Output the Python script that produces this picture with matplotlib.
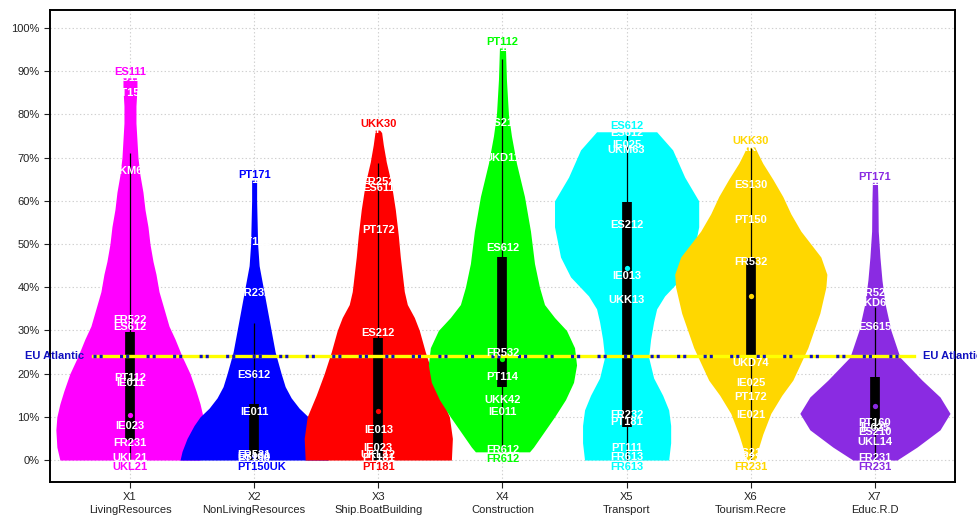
import matplotlib
matplotlib.use("Agg")
import matplotlib.pyplot as plt
import numpy as np

plt.rcParams['font.family'] = ['Liberation Sans', 'DejaVu Sans']
plt.rcParams['lines.scale_dashes'] = False

codes = ["X1", "X2", "X3", "X4", "X5", "X6", "X7"]
sectors = ["LivingResources", "NonLivingResources", "Ship.BoatBuilding",
           "Construction", "Transport", "Tourism.Recre", "Educ.R.D"]
colors = ["#FF00FF", "#0000FF", "#FF0000", "#00FF00", "#00FFFF", "#FFD700", "#8A2BE2"]

# violin outlines: share level -> half width (pixels of the original chart)
lev1 = [0.0, 0.03, 0.07, 0.10, 0.13, 0.16, 0.20, 0.24, 0.28, 0.31, 0.35, 0.39, 0.43,
        0.46, 0.50, 0.54, 0.58, 0.62, 0.66, 0.70, 0.74, 0.78, 0.82, 0.86, 0.885]
wid1 = [70, 73, 74, 73, 70, 66, 60, 52, 45, 39, 34, 29, 26, 23, 20, 18, 15, 13, 10, 8, 7, 6, 6, 7, 7]
lev2 = [0.0, 0.02, 0.05, 0.08, 0.10, 0.12, 0.144, 0.17, 0.20, 0.25, 0.30, 0.35, 0.40,
        0.45, 0.50, 0.55, 0.60, 0.648]
wid2 = [74, 72, 67, 60, 54, 45, 37, 31, 27, 21, 17, 13, 9, 5, 3.5, 3, 2.5, 2.5]
lev3 = [0.0, 0.05, 0.10, 0.15, 0.20, 0.25, 0.30, 0.33, 0.36, 0.39, 0.43, 0.47, 0.52,
        0.58, 0.64, 0.69, 0.73, 0.764]
wid3 = [73, 74, 71, 62, 54, 47, 41, 36, 29, 26, 24, 22, 20, 17, 13, 8, 5, 3]
lev4 = [0.019, 0.03, 0.05, 0.07, 0.10, 0.14, 0.18, 0.22, 0.26, 0.30, 0.33, 0.36, 0.40,
        0.455, 0.53, 0.61, 0.687, 0.75, 0.80, 0.88, 0.954]
wid4 = [27, 31, 37, 43, 52, 63, 71, 74, 72, 64, 52, 42, 37, 32, 28, 22, 14, 9, 6, 4, 3]
lev5 = [0.0, 0.04, 0.08, 0.116, 0.15, 0.19, 0.238, 0.28, 0.32, 0.35, 0.38, 0.424,
        0.47, 0.54, 0.60, 0.655, 0.718, 0.76]
wid5 = [42, 44, 44, 42, 36, 27, 22, 24, 27, 30, 38, 56, 66, 72, 72, 58, 46, 30]
lev6 = [0.0, 0.03, 0.06, 0.108, 0.15, 0.185, 0.26, 0.34, 0.40, 0.43, 0.47, 0.50, 0.53,
        0.57, 0.61, 0.65, 0.687, 0.71, 0.725]
wid6 = [5, 8, 12, 20, 31, 42, 57, 69, 75, 76, 70, 60, 50, 40, 32, 22, 12, 7, 4]
lev7 = [0.0, 0.03, 0.07, 0.108, 0.146, 0.185, 0.238, 0.30, 0.363, 0.417, 0.47, 0.53,
        0.60, 0.643]
wid7 = [22, 42, 65, 75, 65, 47, 25, 16, 10, 7, 5, 3.3, 3, 2.5]
levels = [lev1, lev2, lev3, lev4, lev5, lev6, lev7]
widths = [wid1, wid2, wid3, wid4, wid5, wid6, wid7]

# box plot summaries
lo_whisk = [0.0, 0.0, 0.0, 0.019, 0.0, 0.0, 0.0]
hi_whisk = [0.71, 0.317, 0.687, 0.928, 0.752, 0.722, 0.355]
q1 = [0.046, 0.0, 0.0, 0.169, 0.077, 0.238, 0.073]
q3 = [0.296, 0.130, 0.282, 0.470, 0.598, 0.468, 0.192]
median = [0.104, 0.01, 0.113, 0.235, 0.445, 0.38, 0.124]

# region labels
regions = [
    [("ES111", 0.884), ("PT150", 0.85), ("UKM63", 0.67), ("FR522", 0.324), ("ES612", 0.308),
     ("PT112", 0.19), ("IE011", 0.178), ("IE023", 0.079), ("FR231", 0.04), ("UKL21", 0.005)],
    [("PT171", 0.648), ("PT111", 0.505), ("FR232", 0.386), ("ES612", 0.197), ("IE011", 0.111),
     ("FR531", 0.012), ("ES130", 0.006), ("PT150", 0.002)],
    [("UKK30", 0.764), ("FR252", 0.644), ("ES611", 0.63), ("PT172", 0.532), ("ES212", 0.294),
     ("IE013", 0.07), ("IE023", 0.028), ("UKL12", 0.012), ("PT181", 0.005)],
    [("PT112", 0.954), ("ES211", 0.78), ("UKD11", 0.70), ("ES612", 0.49), ("FR532", 0.248),
     ("PT114", 0.193), ("UKK42", 0.139), ("IE011", 0.112), ("FR612", 0.023)],
    [("ES612", 0.757), ("IE025", 0.729), ("UKM63", 0.718), ("ES212", 0.544), ("IE013", 0.426),
     ("UKK13", 0.37), ("FR232", 0.104), ("PT181", 0.088), ("PT111", 0.028), ("FR613", 0.007)],
    [("UKK30", 0.722), ("ES130", 0.637), ("PT150", 0.556), ("FR532", 0.458), ("UKD74", 0.224),
     ("IE025", 0.178), ("PT172", 0.146), ("IE021", 0.104), ("ES213", 0.016), ("FR231", 0.004)],
    [("PT171", 0.643), ("FR523", 0.387), ("UKD62", 0.363), ("ES615", 0.308), ("PT160", 0.085),
     ("IE025", 0.075), ("ES210", 0.065), ("UKL14", 0.042), ("FR231", 0.005)],
]
top_name = ["ES111", "PT171", "UKK30", "PT112", "ES612", "UKK30", "PT171"]
top_val = [0.885, 0.648, 0.764, 0.954, 0.76, 0.725, 0.643]
bot_name = ["UKL21", "PT150UK", "PT181", "FR612", "FR613", "FR231", "FR231"]
bot_val = [0.0, 0.0, 0.0, 0.019, 0.0, 0.0, 0.0]

eu_atlantic = 0.241

fig = plt.figure(figsize=(9.78, 5.24), dpi=100)
ax = fig.add_axes([0.051, 0.080, 0.9255, 0.901])

px = 1 / 124.0  # one pixel of the source chart in x data units
xs = np.arange(1, 8)

for i, x in enumerate(xs):
    lv = np.array(levels[i])
    hw = np.array(widths[i]) * px
    ax.fill_betweenx(lv, x - hw, x + hw, color=colors[i], lw=0, zorder=2)
for i, x in enumerate(xs):
    ax.vlines(x, lo_whisk[i], hi_whisk[i], color="black", lw=0.9, zorder=3)
    ax.vlines(x, q1[i], q3[i], color="black", lw=7, zorder=3)
    ax.plot(x, median[i], "o", color=colors[i], ms=3.8, mew=0, zorder=4)

# EU average line
ax.plot([0.70, 7.315], [eu_atlantic] * 2, color="#FFFF00", lw=2.4, zorder=5)
ax.plot([0.70, 7.315], [eu_atlantic] * 2, color="#1010C0", lw=2.4, zorder=6,
        dashes=(2.2, 2.2, 2.2, 12.5))
ax.text(0.63, eu_atlantic, "EU Atlantic", color="#1010C0", fontsize=8, fontweight="bold",
        ha="right", va="center", zorder=7, clip_on=False)
ax.text(7.39, eu_atlantic, "EU Atlantic", color="#1010C0", fontsize=8, fontweight="bold",
        ha="left", va="center", zorder=7, clip_on=False)

for i, x in enumerate(xs):
    for name, v in regions[i]:
        ax.text(x, v, name, color="white", fontsize=8, fontweight="bold",
                ha="center", va="center", zorder=8)
    ax.text(x, top_val[i] + 0.013, top_name[i], color=colors[i], fontsize=8,
            fontweight="bold", ha="center", va="center", zorder=8)
    dx = 0.06 if len(bot_name[i]) > 5 else 0
    ax.text(x + dx, bot_val[i] - 0.016, bot_name[i], color=colors[i], fontsize=8,
            fontweight="bold", ha="center", va="center", zorder=8)

ax.set_xlim(0.355, 7.645)
ax.set_ylim(-0.051, 1.042)
ax.set_yticks(np.arange(0, 1.01, 0.1))
ax.set_yticklabels([f"{int(round(t * 100))}%" for t in np.arange(0, 1.01, 0.1)])
ax.set_xticks(xs)
ax.set_xticklabels([f"{c}\n{s}" for c, s in zip(codes, sectors)], linespacing=1.3)
ax.tick_params(labelsize=8, colors="#222222", length=4, width=0.8)
ax.grid(True, color="#D0D0D0", lw=0.8, ls=":", zorder=0)
ax.set_axisbelow(True)
for sp in ax.spines.values():
    sp.set_linewidth(1.4)

fig.savefig("out.png", dpi=100)
